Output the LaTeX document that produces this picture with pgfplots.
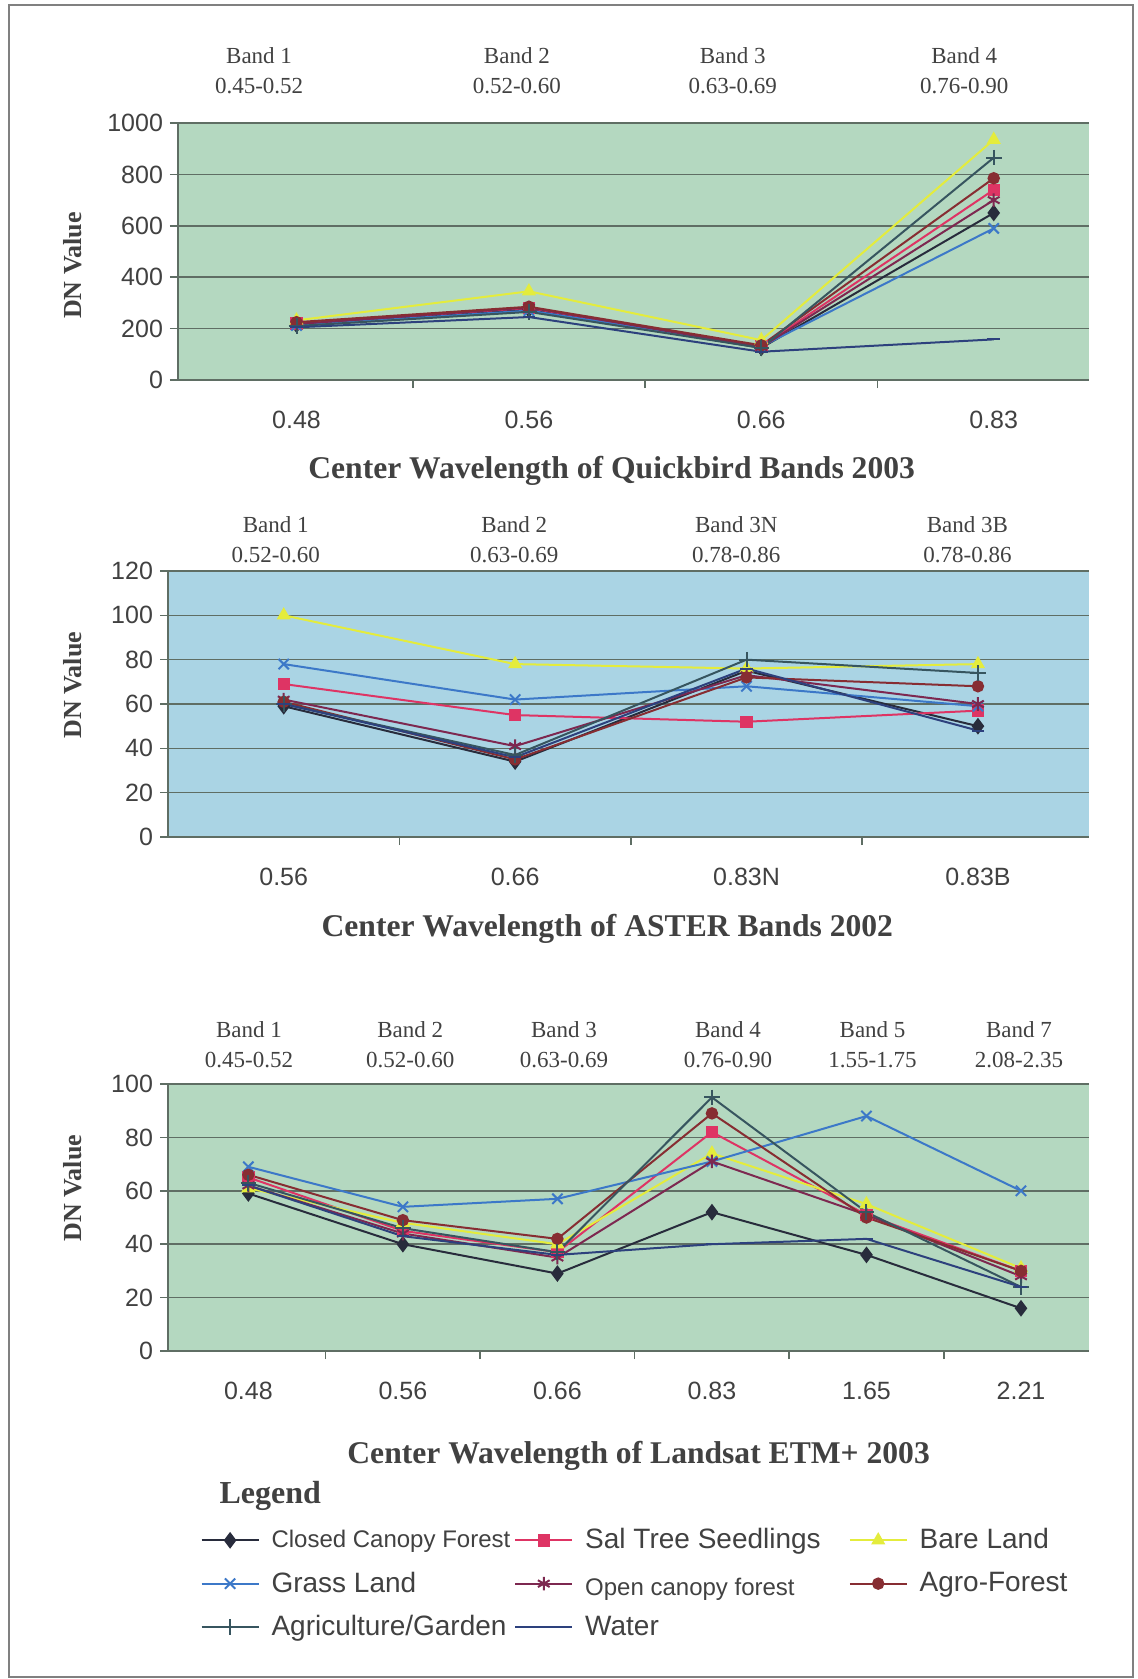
\documentclass[border=0pt]{standalone}
\usepackage{pgfplots}
\pgfplotsset{compat=1.18}
\usepackage{fontspec}
\setmainfont{Liberation Serif}
\setsansfont{Liberation Sans}

\definecolor{cClosed}{RGB}{40,44,60}
\definecolor{cSal}{RGB}{222,52,100}
\definecolor{cBare}{RGB}{228,236,60}
\definecolor{cGrass}{RGB}{60,120,200}
\definecolor{cOpen}{RGB}{125,40,80}
\definecolor{cAgro}{RGB}{135,45,50}
\definecolor{cAgri}{RGB}{55,85,95}
\definecolor{cWater}{RGB}{45,65,125}
\definecolor{bgGreen}{RGB}{180,216,192}
\definecolor{bgBlue}{RGB}{170,212,228}
\definecolor{gridc}{RGB}{95,110,100}
\definecolor{txt}{RGB}{65,65,65}

\pgfplotscreateplotcyclelist{dn}{
 {cClosed, mark=diamond*, mark options={fill=cClosed, scale=1.3}},
 {cSal, mark=square*, mark options={fill=cSal}},
 {cBare, mark=triangle*, mark options={fill=cBare, scale=1.2}},
 {cGrass, mark=x, mark options={scale=1.4}},
 {cOpen, mark=asterisk, mark options={scale=1.3}},
 {cAgro, mark=*, mark options={fill=cAgro}},
 {cAgri, mark=+, mark options={scale=1.5}},
 {cWater, mark=-, mark options={scale=1.2}},
}

\tikzset{band/.style={align=center, font=\fontsize{11.5}{15}\selectfont, text=txt}}

\pgfplotsset{
 base/.style={
  scale only axis, anchor=north west, clip=false,
  axis x line*=bottom, axis y line*=left,
  axis line style={-, draw=gridc, line width=0.8pt},
  ymajorgrids, grid style={draw=gridc, line width=0.8pt},
  tick align=outside, major tick length=4pt,
  tick style={draw=gridc, line width=0.8pt},
  ticklabel style={font=\sffamily\fontsize{12.5}{14}\selectfont, text=txt},
  /pgf/number format/assume math mode=true,
  /pgf/number format/1000 sep={},
  xticklabel={\relax},
  extra x tick style={tick style={draw=none}, xticklabel style={yshift=-8pt}},
  cycle list name=dn,
  every axis plot/.append style={line width=1pt, mark size=2.6pt},
 },
 xlab/.style n args={2}{every axis x label/.style={at={(axis description cs:#1,#2)}, anchor=center,
     font=\bfseries\fontsize{15.8}{17}\selectfont, text=txt}},
 ylab/.style n args={2}{every axis y label/.style={at={(axis description cs:#1,#2)}, rotate=90, anchor=center,
     font=\bfseries\fontsize{13}{15}\selectfont, text=txt}},
}

\begin{document}
\begin{tikzpicture}
\useasboundingbox (0,0) rectangle (568.5pt,-839.5pt);
\fill[white] (0,0) rectangle (568.5pt,-839.5pt);
\draw[gray, line width=0.8pt] (4.5pt,-2.5pt) rectangle (566.5pt,-838.5pt);

% ---------------- Quickbird ----------------
\begin{axis}[base,
  at={(89pt,-61.5pt)}, width=455.5pt, height=128.5pt,
  axis background/.style={fill=bgGreen},
  xmin=-0.51, xmax=3.41, ymin=0, ymax=1000,
  ytick={0,200,...,1000},
  xtick={0.5,1.5,2.5},
  extra x ticks={0,1,2,3},
  extra x tick labels={0.48,0.56,0.66,0.83},
  xlabel={Center Wavelength of Quickbird Bands 2003},
  ylabel={DN Value},
  ylab={-0.1153}{0.445}, xlab={0.476}{-0.352},
]
\addplot coordinates {(0,215) (1,275) (2,125) (3,650)};
\addplot coordinates {(0,220) (1,280) (2,130) (3,740)};
\addplot coordinates {(0,232) (1,345) (2,155) (3,935)};
\addplot coordinates {(0,212) (1,270) (2,130) (3,590)};
\addplot coordinates {(0,218) (1,282) (2,128) (3,700)};
\addplot coordinates {(0,225) (1,285) (2,135) (3,785)};
\addplot coordinates {(0,210) (1,265) (2,125) (3,865)};
\addplot coordinates {(0,205) (1,245) (2,110) (3,158)};
\node[band] at (axis description cs:0.089,1.202) {Band 1\\0.45-0.52};
\node[band] at (axis description cs:0.372,1.202) {Band 2\\0.52-0.60};
\node[band] at (axis description cs:0.609,1.202) {Band 3\\0.63-0.69};
\node[band] at (axis description cs:0.863,1.202) {Band 4\\0.76-0.90};
\end{axis}

% ---------------- ASTER ----------------
\begin{axis}[base,
  at={(84pt,-285.5pt)}, width=460.5pt, height=133pt,
  axis background/.style={fill=bgBlue},
  xmin=-0.5, xmax=3.48, ymin=0, ymax=120,
  ytick={0,20,...,120},
  xtick={0.5,1.5,2.5},
  extra x ticks={0,1,2,3},
  extra x tick labels={0.56,0.66,0.83N,0.83B},
  xlabel={Center Wavelength of ASTER Bands 2002},
  ylabel={DN Value},
  ylab={-0.103}{0.571}, xlab={0.477}{-0.346},
]
\addplot coordinates {(0,59) (1,34) (2,75) (3,50)};
\addplot coordinates {(0,69) (1,55) (2,52) (3,57)};
\addplot coordinates {(0,100) (1,78) (2,76) (3,78)};
\addplot coordinates {(0,78) (1,62) (2,68) (3,59)};
\addplot coordinates {(0,62) (1,41) (2,73) (3,60)};
\addplot coordinates {(0,61) (1,35) (2,72) (3,68)};
\addplot coordinates {(0,60) (1,37) (2,80) (3,74)};
\addplot coordinates {(0,60) (1,36) (2,76) (3,48)};
\node[band] at (axis description cs:0.117,1.117) {Band 1\\0.52-0.60};
\node[band] at (axis description cs:0.376,1.117) {Band 2\\0.63-0.69};
\node[band] at (axis description cs:0.617,1.117) {Band 3N\\0.78-0.86};
\node[band] at (axis description cs:0.868,1.117) {Band 3B\\0.78-0.86};
\end{axis}

% ---------------- Landsat ----------------
\begin{axis}[base,
  at={(84pt,-542pt)}, width=460.5pt, height=133.5pt,
  axis background/.style={fill=bgGreen},
  xmin=-0.52, xmax=5.44, ymin=0, ymax=100,
  ytick={0,20,...,100},
  xtick={0.5,1.5,2.5,3.5,4.5},
  extra x ticks={0,1,2,3,4,5},
  extra x tick labels={0.48,0.56,0.66,0.83,1.65,2.21},
  xlabel={Center Wavelength of Landsat ETM+ 2003},
  ylabel={DN Value},
  ylab={-0.103}{0.61}, xlab={0.511}{-0.393},
  legend columns=3,
  legend cell align=left,
  legend image code/.code={\draw[mark repeat=2,mark phase=2,#1] plot coordinates {(0cm,0cm) (0.5cm,0cm) (1cm,0cm)};},
  legend style={at={(axis description cs:0.035,-0.649)}, anchor=north west,
    draw=none, fill=none, inner sep=0pt, row sep=6pt,
    font=\sffamily\fontsize{14}{16}\selectfont, text=txt,
    /tikz/every odd column/.append style={column sep=4pt},
    /tikz/column 4/.style={column sep=12pt}},
]
\addplot coordinates {(0,59) (1,40) (2,29) (3,52) (4,36) (5,16)};
\addplot coordinates {(0,65) (1,45) (2,37) (3,82) (4,51) (5,30)};
\addplot coordinates {(0,61) (1,48) (2,40) (3,74) (4,55) (5,31)};
\addplot coordinates {(0,69) (1,54) (2,57) (3,71) (4,88) (5,60)};
\addplot coordinates {(0,62) (1,44) (2,35) (3,71) (4,51) (5,28)};
\addplot coordinates {(0,66) (1,49) (2,42) (3,89) (4,50) (5,30)};
\addplot coordinates {(0,63) (1,46) (2,37) (3,95) (4,52) (5,24)};
\addplot coordinates {(0,62) (1,43) (2,36) (3,40) (4,42) (5,24)};
\legend{{\fontsize{12}{14}\selectfont Closed Canopy Forest},
        Sal Tree Seedlings, Bare Land, Grass Land,
        {\raisebox{-5pt}{\fontsize{12}{14}\selectfont Open canopy forest}},
        Agro-Forest, Agriculture/Garden, Water}
\node[band] at (axis description cs:0.088,1.146) {Band 1\\0.45-0.52};
\node[band] at (axis description cs:0.263,1.146) {Band 2\\0.52-0.60};
\node[band] at (axis description cs:0.430,1.146) {Band 3\\0.63-0.69};
\node[band] at (axis description cs:0.608,1.146) {Band 4\\0.76-0.90};
\node[band] at (axis description cs:0.765,1.146) {Band 5\\1.55-1.75};
\node[band] at (axis description cs:0.924,1.146) {Band 7\\2.08-2.35};
\node[font=\bfseries\fontsize{16}{18}\selectfont, text=txt] at (axis description cs:0.111,-0.543) {Legend};
\end{axis}
\end{tikzpicture}
\end{document}
